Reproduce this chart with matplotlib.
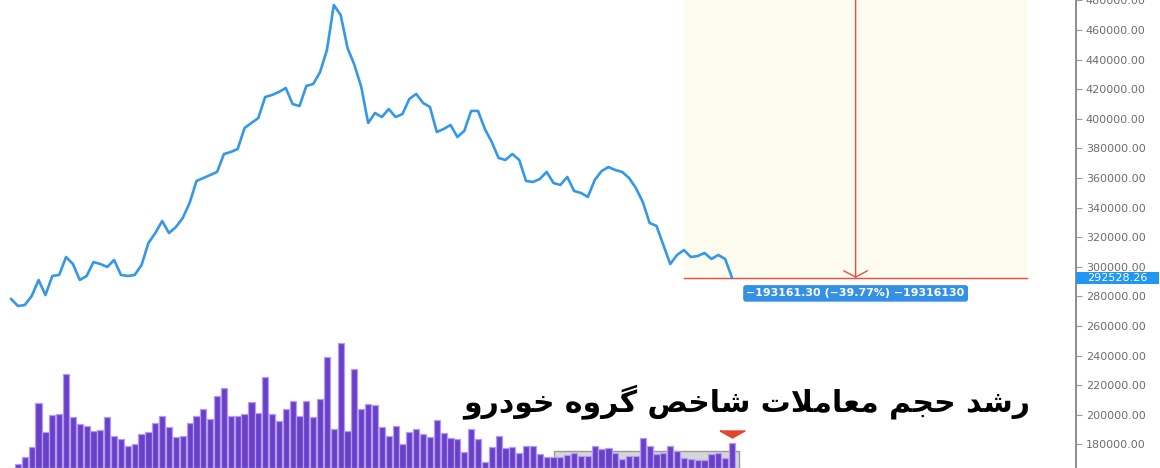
import numpy as np
import matplotlib
matplotlib.use("Agg")
import matplotlib.pyplot as plt
from matplotlib.patches import Rectangle
from matplotlib.path import Path as MPath

plt.rcParams["font.family"] = ["DejaVu Sans"]

# daily close of the auto-group index
price = [
    278200, 273500, 274200, 280300, 291100, 280900, 293800, 294500, 306600, 301900,
    291100, 293800, 303200, 301900, 299900, 304600, 294500, 293800, 294500, 301200,
    316100, 322800, 330900, 322800, 326900, 333000, 343100, 358000, 360000, 362000,
    364100, 376200, 377600, 379600, 393800, 397200, 400500, 414700, 416100, 418100,
    420800, 410000, 408600, 422200, 423500, 431600, 446500, 476900, 470100, 447800,
    436400, 421500, 397200, 403900, 401200, 406600, 401200, 403200, 413400, 416800,
    410700, 408000, 391100, 393100, 395800, 387700, 391800, 405300, 405300, 393100,
    384300, 373500, 372200, 376200, 372200, 358000, 357300, 359300, 364100, 356600,
    355300, 360700, 351200, 349900, 347200, 358600, 364700, 367400, 365400, 364100,
    360000, 353200, 343800, 329600, 327600, 314700, 301900, 308000, 311300, 306600,
    307300, 309300, 305300, 308000, 305300, 292528.26,
]

# traded volume (arbitrary units)
volume = [
    0, 4, 11, 21, 65, 36, 53, 54, 94, 51,
    44, 42, 37, 38, 51, 32, 29, 22, 24, 34,
    36, 45, 52, 41, 31, 32, 45, 52, 59, 49,
    72, 80, 52, 52, 54, 66, 55, 91, 54, 47,
    59, 67, 52, 67, 51, 69, 111, 39, 125, 37,
    99, 59, 64, 63, 41, 32, 42, 24, 36, 39,
    34, 31, 48, 35, 30, 29, 16, 39, 29, 6,
    21, 32, 20, 21, 15, 22, 22, 14, 11, 11,
    11, 13, 15, 12, 12, 22, 19, 20, 15, 9,
    12, 12, 30, 22, 14, 15, 22, 17, 10, 9,
    8, 8, 14, 15, 10, 25,
]

y_ticks = list(range(180000, 480001, 20000))

# price range measurement
range_start_price = 485689.56
range_end_price = 292528.26
range_x0, range_x1 = 98, 148
range_label = "\u2212193161.30 (\u221239.77%) \u221219316130"

title = "رشد حجم معاملات شاخص گروه خودرو"

# volume highlight box
vbox_x0, vbox_x1, vbox_top = 79, 106.05, 17

blue = "#3598e6"
red = "#ef4a3c"
purple = "#6a40c8"


# --- minimal Arabic shaping (matplotlib has no complex text layout) ---
forms = {
    "ا": ("\uFE8D", "\uFE8E", None, None),
    "ت": ("\uFE95", "\uFE96", "\uFE97", "\uFE98"),
    "ج": ("\uFE9D", "\uFE9E", "\uFE9F", "\uFEA0"),
    "ح": ("\uFEA1", "\uFEA2", "\uFEA3", "\uFEA4"),
    "خ": ("\uFEA5", "\uFEA6", "\uFEA7", "\uFEA8"),
    "د": ("\uFEA9", "\uFEAA", None, None),
    "ر": ("\uFEAD", "\uFEAE", None, None),
    "ش": ("\uFEB5", "\uFEB6", "\uFEB7", "\uFEB8"),
    "ص": ("\uFEB9", "\uFEBA", "\uFEBB", "\uFEBC"),
    "ع": ("\uFEC9", "\uFECA", "\uFECB", "\uFECC"),
    "ل": ("\uFEDD", "\uFEDE", "\uFEDF", "\uFEE0"),
    "م": ("\uFEE1", "\uFEE2", "\uFEE3", "\uFEE4"),
    "ه": ("\uFEE9", "\uFEEA", "\uFEEB", "\uFEEC"),
    "و": ("\uFEED", "\uFEEE", None, None),
    "گ": ("\uFB92", "\uFB93", "\uFB94", "\uFB95"),
}


def shape(text):
    out = []
    i = 0
    while i < len(text):
        c = text[i]
        prev = text[i - 1] if i > 0 else None
        joins_prev = prev in forms and forms[prev][2] is not None
        if c == "ل" and i + 1 < len(text) and text[i + 1] == "ا":
            out.append("\uFEFC" if joins_prev else "\uFEFB")
            i += 2
            continue
        if c not in forms:
            out.append(c)
            i += 1
            continue
        nxt = text[i + 1] if i + 1 < len(text) else None
        joins_next = nxt in forms and forms[c][2] is not None
        iso, fin, ini, med = forms[c]
        if joins_prev and joins_next:
            out.append(med)
        elif joins_prev:
            out.append(fin)
        elif joins_next:
            out.append(ini)
        else:
            out.append(iso)
        i += 1
    return "".join(reversed(out))


# %%

W, H = 1160, 468
fig = plt.figure(figsize=(W / 100, H / 100), dpi=100)
ax = fig.add_axes([0, 0, 1076 / W, 1])
ax2 = ax.twinx()
ax.set_zorder(1)
ax.patch.set_visible(False)

x = np.arange(len(price))
ax.set_xlim(-1.62, 155.1)
ax.set_ylim(164050, 480270)
ax2.set_ylim(0, H)

# measurement zone
ax.add_patch(Rectangle((range_x0, range_end_price), range_x1 - range_x0,
                       range_start_price - range_end_price,
                       facecolor="#fefcee", edgecolor="none", zorder=0))
ax.plot([range_x0, range_x1], [range_end_price, range_end_price], color=red, lw=1.0, zorder=2)
xc = (range_x0 + range_x1) / 2
ax.annotate("", xy=(xc, range_end_price), xytext=(xc, range_start_price),
            arrowprops=dict(arrowstyle="->,head_length=0.45,head_width=0.85",
                            color=red, lw=1.0, shrinkA=0, shrinkB=0), zorder=2)

ax.plot(x, price, color=blue, lw=1.9, zorder=3, solid_joinstyle="round")

ax.text(xc, range_end_price - 10500, range_label, ha="center", va="center",
        color="white", fontsize=7.9, fontweight="bold", zorder=5,
        bbox=dict(boxstyle="round,pad=0.3,rounding_size=0.25", fc="#3490e4", ec="none"))

# volume bars
ax2.bar(x, volume, width=0.9, color=purple, edgecolor="#b29cf4", linewidth=0.9, zorder=2)
ax2.add_patch(Rectangle((vbox_x0, 0), vbox_x1 - vbox_x0, vbox_top,
                        facecolor="#d6d6d6", edgecolor="#9a9a9a", lw=1.0, zorder=1))
tri = MPath([(-1, 0.28), (1, 0.28), (0, -0.28), (-1, 0.28)])
ax2.plot([x[-1]], [34.5], marker=tri, markersize=18, color="#e0472e", zorder=3)
ax2.axis("off")

# right price axis
for s in ["top", "left", "bottom"]:
    ax.spines[s].set_visible(False)
ax.spines["right"].set_color("#8c8c8c")
ax.spines["right"].set_linewidth(1.4)
ax.yaxis.tick_right()
ax.set_yticks(y_ticks)
ax.set_yticklabels([f"{v:.2f}" for v in y_ticks])
ax.tick_params(axis="y", direction="out", length=4, width=0.8, color="#9a9a9a",
               labelsize=8, labelcolor="#6e6e6e", pad=3)
ax.set_xticks([])

# last price tag on the axis
_, py = ax.transData.transform((0, range_end_price))
fig.patches.append(Rectangle((1076 / W, (py - 6) / H), 83 / W, 12 / H,
                             transform=fig.transFigure, facecolor="#2196f3",
                             edgecolor="none", zorder=5))
fig.text(1087 / W, py / H, f"{range_end_price:.2f}", ha="left", va="center",
         color="white", fontsize=8, zorder=6)

fig.text(1030 / W, 1 - 402 / H, shape(title), ha="right", va="center",
         fontsize=21.5, fontweight="bold", color="black", zorder=7)

fig.savefig("out.png", dpi=100)
